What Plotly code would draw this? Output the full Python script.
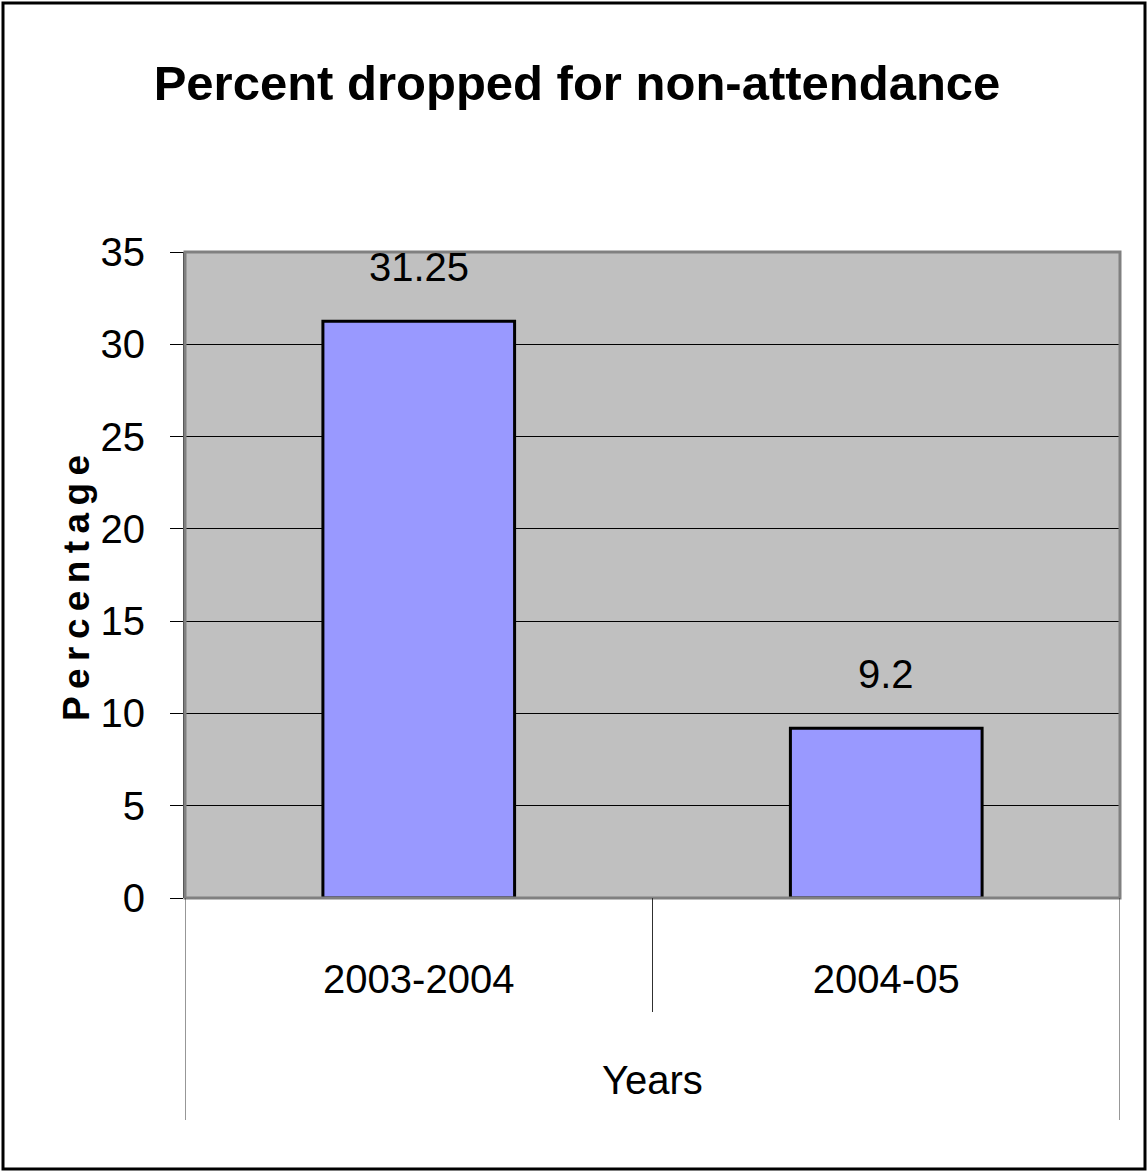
import plotly.graph_objects as go

# Chart data
years = ["2003-2004", "2004-05"]
percent_dropped = [31.25, 9.2]
y_ticks = [0, 5, 10, 15, 20, 25, 30, 35]

W, H = 1148, 1172
L, R, T, B = 185, 28, 252, 274
PW, PH = W - L - R, H - T - B

FONT = "Liberation Sans, Arial, sans-serif"
NUM_SIZE = 40


def px_x(x):
    """Convert a page x pixel to paper coordinates."""
    return (x - L) / PW


def px_y(y):
    """Convert a page y pixel to paper coordinates."""
    return (H - B - y) / PH


fig = go.Figure()
fig.add_trace(go.Bar(
    x=years,
    y=percent_dropped,
    width=0.41,
    marker=dict(color="#9999FF", line=dict(color="black", width=3)),
    hoverinfo="x+y",
))

# value labels above the bars
for cat, val in zip(years, percent_dropped):
    fig.add_annotation(
        x=cat, y=val, xref="x", yref="y",
        text=f"{val:g}", showarrow=False,
        yanchor="bottom", yshift=30,
        font=dict(family=FONT, size=NUM_SIZE, color="black"),
    )

shapes = []
# plot-area frame (grey top and right edges)
shapes.append(dict(type="rect", xref="paper", yref="paper", x0=0, x1=1, y0=0, y1=1,
                   line=dict(color="#808080", width=3), layer="above"))
# category separators extending below the axis
for xv, y_end in [(-0.5, 1120), (0.5, 1012), (1.5, 1120)]:
    shapes.append(dict(type="line", xref="x", yref="paper", x0=xv, x1=xv,
                       y0=0, y1=px_y(y_end), line=dict(color="#303030", width=1)))
# outer chart border
shapes.append(dict(type="rect", xref="paper", yref="paper",
                   x0=px_x(3), x1=px_x(W - 3), y0=px_y(H - 3), y1=px_y(3),
                   line=dict(color="black", width=3)))

fig.update_layout(
    width=W, height=H,
    margin=dict(l=L, r=R, t=T, b=B, pad=0),
    paper_bgcolor="white",
    plot_bgcolor="#C0C0C0",
    showlegend=False,
    shapes=shapes,
    font=dict(family=FONT, color="black"),
    title=dict(
        text="<b>Percent dropped for non-attendance</b>",
        x=577 / W, xanchor="center",
        y=1 - 83 / H, yanchor="middle", yref="container",
        font=dict(family=FONT, size=49, color="black"),
    ),
)

fig.update_xaxes(
    type="category",
    range=[-0.5, 1.5],
    showgrid=False,
    showline=False,
    ticks="",
    ticklabelstandoff=54,
    tickfont=dict(family=FONT, size=NUM_SIZE, color="black"),
    zeroline=False,
)

fig.update_yaxes(
    range=[0, 35],
    tickvals=y_ticks,
    ticktext=[str(v) for v in y_ticks],
    showgrid=True, gridcolor="black", gridwidth=1,
    showline=True, linecolor="#303030", linewidth=2,
    ticks="outside", ticklen=13, tickcolor="black", tickwidth=1,
    ticklabelstandoff=17,
    tickfont=dict(family=FONT, size=NUM_SIZE, color="black"),
    zeroline=True, zerolinecolor="black", zerolinewidth=2,
)

# axis titles
fig.add_annotation(
    x=px_x(76), y=px_y(588), xref="paper", yref="paper",
    text="<b>" + "\u2009".join("Percentage") + "</b>",
    textangle=-90, showarrow=False, xanchor="center", yanchor="middle",
    font=dict(family=FONT, size=37, color="black"),
)
fig.add_annotation(
    x=0.5, y=px_y(1080), xref="paper", yref="paper",
    text="Years", showarrow=False, xanchor="center", yanchor="middle",
    font=dict(family=FONT, size=NUM_SIZE, color="black"),
)

fig.write_html("out.html")
